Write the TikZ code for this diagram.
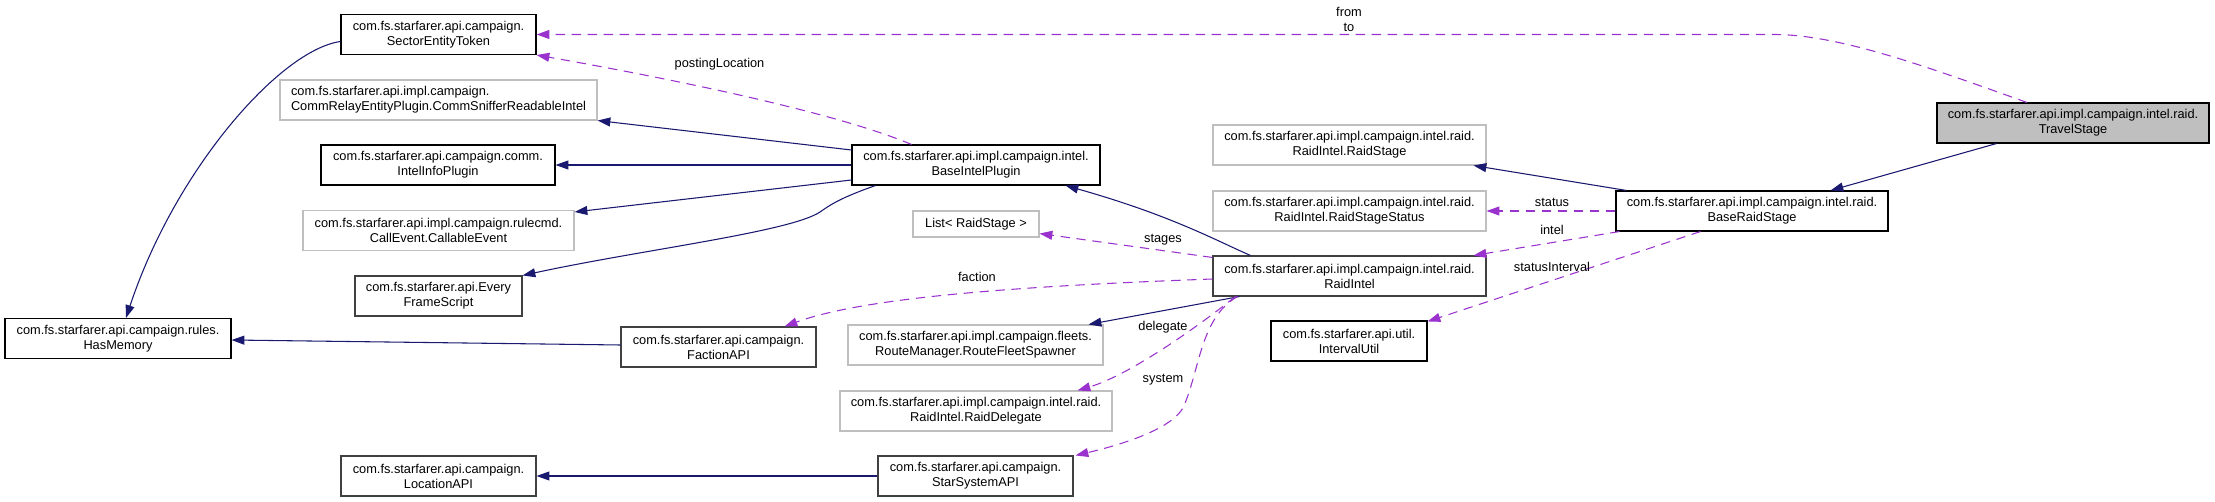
\documentclass[tikz,border=0pt]{standalone}
\usepackage{fontspec}
\setmainfont{Liberation Sans}
\usetikzlibrary{arrows.meta,calc}

\definecolor{edgeblue}{HTML}{191970}
\definecolor{edgepurple}{HTML}{9A32CD}
\definecolor{boxgray}{HTML}{BFBFBF}
\definecolor{boxdark}{HTML}{404040}

\begin{document}
\begin{tikzpicture}[x=0.75pt, y=-0.75pt,
    every node/.style={font=\fontsize{9.6}{11.25}\selectfont},
    cls/.style={draw=black, line width=0.8pt, fill=white, align=center, inner sep=0pt, minimum height=30pt},
    clsdark/.style={cls, draw=boxdark},
    clsgray/.style={cls, draw=boxgray},
    inh/.style={edgeblue, line width=0.8pt, -{Triangle[length=9.6pt,width=6.7pt]}},
    usage/.style={edgepurple, line width=0.8pt, dash pattern=on 7pt off 5pt, -{Triangle[length=9.6pt,width=6.7pt]}},
    lbl/.style={inner sep=0pt}]
    \useasboundingbox (0,0) rectangle (2215,502);

    % Left column
    \node[cls, minimum width=146.25pt] (tok) at (438.5,34.5) {com.fs.starfarer.api.campaign.\\SectorEntityToken};
    \node[clsgray, align=left, minimum width=237.75pt] (sniff) at (438.5,100) {com.fs.starfarer.api.impl.campaign.\\CommRelayEntityPlugin.CommSnifferReadableIntel};
    \node[cls, minimum width=175.5pt] (info) at (438,165) {com.fs.starfarer.api.campaign.comm.\\IntelInfoPlugin};
    \node[clsgray, minimum width=203.25pt] (callev) at (438.5,230.5) {com.fs.starfarer.api.impl.campaign.rulecmd.\\CallEvent.CallableEvent};
    \node[clsdark, minimum width=125.25pt] (every) at (438.5,296) {com.fs.starfarer.api.Every\\FrameScript};
    \node[cls, minimum width=169.5pt] (mem) at (118,338.5) {com.fs.starfarer.api.campaign.rules.\\HasMemory};
    \node[clsdark, minimum width=146.25pt] (loc) at (438.5,476) {com.fs.starfarer.api.campaign.\\LocationAPI};
    \node[clsdark, minimum width=146.25pt] (faction) at (718.5,347) {com.fs.starfarer.api.campaign.\\FactionAPI};

    % Middle column
    \node[cls, minimum width=186pt] (base) at (976,165) {com.fs.starfarer.api.impl.campaign.intel.\\BaseIntelPlugin};
    \node[clsgray, minimum width=94.5pt, minimum height=19.5pt] (list) at (976,224) {List< RaidStage >};
    \node[clsgray, minimum width=191.25pt] (spawner) at (975.5,345) {com.fs.starfarer.api.impl.campaign.fleets.\\RouteManager.RouteFleetSpawner};
    \node[clsgray, minimum width=204pt] (rdeleg) at (976,411) {com.fs.starfarer.api.impl.campaign.intel.raid.\\RaidIntel.RaidDelegate};
    \node[clsdark, minimum width=146.25pt] (starsys) at (975.5,476) {com.fs.starfarer.api.campaign.\\StarSystemAPI};

    % Raid column
    \node[clsgray, minimum width=204.75pt] (rstage) at (1349.5,145) {com.fs.starfarer.api.impl.campaign.intel.raid.\\RaidIntel.RaidStage};
    \node[clsgray, minimum width=204.75pt] (rstatus) at (1349.5,211) {com.fs.starfarer.api.impl.campaign.intel.raid.\\RaidIntel.RaidStageStatus};
    \node[clsdark, minimum width=204.75pt] (raid) at (1349.5,276) {com.fs.starfarer.api.impl.campaign.intel.raid.\\RaidIntel};
    \node[cls, minimum width=117pt] (interval) at (1349,341) {com.fs.starfarer.api.util.\\IntervalUtil};

    % Stages
    \node[cls, minimum width=204pt] (brs) at (1752,211) {com.fs.starfarer.api.impl.campaign.intel.raid.\\BaseRaidStage};
    \node[cls, fill=boxgray, minimum width=204pt] (travel) at (2073,123) {com.fs.starfarer.api.impl.campaign.intel.raid.\\TravelStage};

    % Inheritance
    \draw[inh] ($(tok.west)+(0,7)$) .. controls (280,50) and (175,170) .. ($(mem.north)+(8,0)$);
    \draw[inh] ($(base.west)+(0,-15)$) -- (sniff.south east);
    \draw[inh] (base.west) -- (info.east);
    \draw[inh] ($(base.west)+(0,15)$) -- ($(callev.north east)+(0,2)$);
    \draw[inh] ($(base.south west)+(24,0)$) .. controls (840,198) and (830,205) .. (820,212)
        .. controls (790,232) and (640,250) .. (every.north east);
    \draw[inh] ($(faction.west)+(0,-2)$) -- ($(mem.east)+(0,1.5)$);
    \draw[inh] ($(raid.north west)+(38,0)$) .. controls (1215,240) and (1170,215) .. ($(base.south east)+(-35,0)$);
    \draw[inh] ($(raid.south west)+(27,0)$) -- ($(spawner.north east)+(-15,0)$);
    \draw[inh] (starsys.west) -- (loc.east);
    \draw[inh] ($(brs.north west)+(11,0)$) -- ($(rstage.south east)+(-13,0)$);
    \draw[inh] ($(travel.south west)+(60,0)$) -- ($(brs.north east)+(-58,0)$);

    % Usage
    \draw[usage] ($(base.north west)+(60,0)$) .. controls (830,110) and (650,75) .. (tok.south east);
    \draw[usage] ($(travel.north)+(-46,0)$) .. controls (1930,68) and (1840,34.5) .. (1774,34.5) -- (tok.east);
    \draw[usage] ($(raid.north west)+(0,2)$) -- ($(list.south east)+(0,-4)$);
    \draw[usage] ($(raid.west)+(0,3)$) .. controls (1050,285) and (870,295) .. ($(faction.north east)+(-32,0)$);
    \draw[usage] ($(raid.south west)+(23,0)$) .. controls (1200,325) and (1130,375) .. ($(rdeleg.north east)+(-35,0)$);
    \draw[usage] ($(raid.south west)+(25,0)$) .. controls (1200,318) and (1200,370) .. (1183,408)
        .. controls (1170,430) and (1120,445) .. ($(starsys.north east)+(2,0)$);
    \draw[usage] (brs.west) -- (rstatus.east);
    \draw[usage] ($(brs.south west)+(4,0)$) -- ($(raid.north east)+(-13,0)$);
    \draw[usage] ($(brs.south west)+(85,0)$) -- ($(interval.north east)+(0,1)$);

    % Labels
    \node[lbl] (lposting) at (719.5,64) {postingLocation};
    \node[lbl] (lfrom) at (1349,12) {from};
    \node[lbl] (lto) at (1349,27) {to};
    \node[lbl] (lstages) at (1163,240) {stages};
    \node[lbl] (lfaction) at (977,277) {faction};
    \node[lbl] (ldelegate) at (1163,327) {delegate};
    \node[lbl] (lsystem) at (1163,380) {system};
    \node[lbl] (lstatus) at (1552,202) {status};
    \node[lbl] (lintel) at (1552,230) {intel};
    \node[lbl] (linterval) at (1552,267) {statusInterval};
\end{tikzpicture}
\end{document}
